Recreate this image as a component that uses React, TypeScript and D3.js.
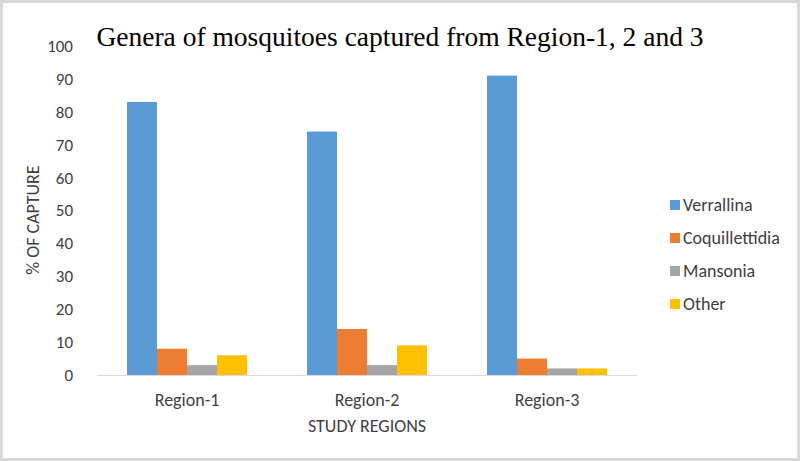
import React from "react";
import * as d3 from "d3";

const categories = ["Region-1", "Region-2", "Region-3"];
const seriesNames = ["Verrallina", "Coquillettidia", "Mansonia", "Other"];
const verrallina = [83, 74, 91];
const coquillettidia = [8, 14, 5];
const mansonia = [3, 3, 2];
const other = [6, 9, 2];
const yTicks = [0, 10, 20, 30, 40, 50, 60, 70, 80, 90, 100];
const colors = ["#5b9bd5", "#ed7d31", "#a5a5a5", "#ffc000"];

const W = 800;
const H = 461;
const sans = "Calibri, Carlito, 'Open Sans', sans-serif";

export default function App() {
  const series = [verrallina, coquillettidia, mansonia, other];
  const x0 = d3.scaleBand<string>().domain(categories).range([97, 637]).paddingInner(0).paddingOuter(0);
  const inner = 120;
  const x1 = d3.scaleBand<string>().domain(seriesNames).range([0, inner]).padding(0);
  const y = d3.scaleLinear().domain([0, 100]).range([375, 46]);

  return (
    <div style={{ position: "fixed", left: 0, top: 0 }}>
      <svg width={W} height={H} style={{ display: "block" }}>
        <rect x={0} y={0} width={W} height={H} fill="#ffffff" />
        <rect x={1.5} y={1.5} width={W - 3} height={H - 3} fill="none" stroke="#d9d9d9" strokeWidth={3} />
        <text x={400} y={46} textAnchor="middle" fontFamily="'Liberation Serif', 'Times New Roman', serif" fontSize={27.5} fill="#000">
          Genera of mosquitoes captured from Region-1, 2 and 3
        </text>
        {yTicks.map((t) => (
          <text key={t} x={73} y={y(t)} dy="0.35em" textAnchor="end" fontFamily={sans} fontSize={17} fill="#404040">
            {t}
          </text>
        ))}
        <line x1={97} x2={637} y1={y(0) + 0.5} y2={y(0) + 0.5} stroke="#d9d9d9" strokeWidth={1} />
        {categories.map((c, ci) => {
          const gx = (x0(c) as number) + (x0.bandwidth() - inner) / 2;
          return (
            <g key={c}>
              {series.map((s, si) => (
                <rect
                  key={si}
                  x={gx + (x1(seriesNames[si]) as number)}
                  y={y(s[ci])}
                  width={x1.bandwidth()}
                  height={y(0) - y(s[ci])}
                  fill={colors[si]}
                />
              ))}
              <text x={(x0(c) as number) + x0.bandwidth() / 2} y={400} dy="0.35em" textAnchor="middle" fontFamily={sans} fontSize={18} fill="#404040">
                {c}
              </text>
            </g>
          );
        })}
        <text x={367} y={426} dy="0.35em" textAnchor="middle" fontFamily={sans} fontSize={18} fill="#404040">
          STUDY REGIONS
        </text>
        <text transform="translate(33,220) rotate(-90)" dy="0.35em" textAnchor="middle" fontFamily={sans} fontSize={18} fill="#404040">
          % OF CAPTURE
        </text>
        {seriesNames.map((n, i) => (
          <g key={n} transform={`translate(670,${205 + i * 33})`}>
            <rect x={0} y={-5} width={10} height={10} fill={colors[i]} />
            <text x={13} y={0} dy="0.35em" fontFamily={sans} fontSize={18} fill="#404040">
              {n}
            </text>
          </g>
        ))}
      </svg>
    </div>
  );
}
